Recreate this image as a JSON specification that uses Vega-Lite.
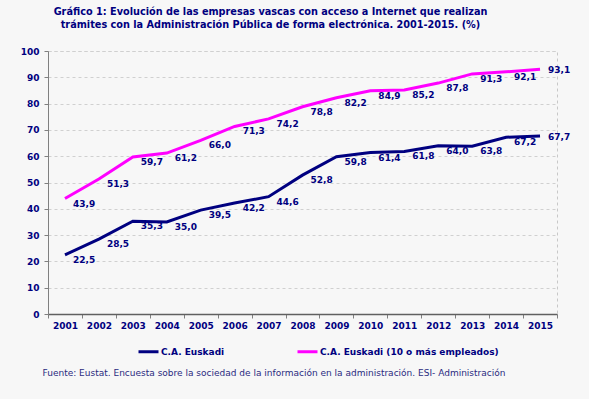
{
  "$schema": "https://vega.github.io/schema/vega-lite/v6.json",
  "width": 509,
  "height": 263,
  "autosize": {"type": "none"},
  "padding": {"left": 48, "top": 51, "right": 32, "bottom": 85},
  "background": "#f7f7f7",
  "title": {
    "text": ["Gráfico 1: Evolución de las empresas vascas con acceso a Internet que realizan", "trámites con la Administración Pública de forma electrónica. 2001-2015. (%)"],
    "anchor": "middle",
    "dx": -32,
    "offset": 17,
    "font": "DejaVu Sans Condensed",
    "fontSize": 10.8,
    "fontWeight": "bold",
    "color": "#000080",
    "lineHeight": 13
  },
  "config": {
    "locale": {"number": {"decimal": ",", "thousands": ".", "grouping": [3], "currency": ["", " €"]}},
    "view": {"stroke": "#c8c8c8", "strokeDash": [3, 3]},
    "font": "DejaVu Sans",
    "legend": {
      "orient": "none",
      "legendX": 89,
      "legendY": 289,
      "direction": "horizontal",
      "symbolType": "stroke",
      "symbolSize": 400,
      "symbolStrokeWidth": 3,
      "labelFont": "DejaVu Sans",
      "labelFontSize": 9,
      "labelFontWeight": "bold",
      "labelColor": "#000080",
      "labelOffset": 1,
      "labelLimit": 400,
      "columnPadding": 66
    }
  },
  "data": {
    "values": [
      {"year": 2001, "serie": "C.A. Euskadi", "value": 22.5},
      {"year": 2002, "serie": "C.A. Euskadi", "value": 28.5},
      {"year": 2003, "serie": "C.A. Euskadi", "value": 35.3},
      {"year": 2004, "serie": "C.A. Euskadi", "value": 35.0},
      {"year": 2005, "serie": "C.A. Euskadi", "value": 39.5},
      {"year": 2006, "serie": "C.A. Euskadi", "value": 42.2},
      {"year": 2007, "serie": "C.A. Euskadi", "value": 44.6},
      {"year": 2008, "serie": "C.A. Euskadi", "value": 52.8},
      {"year": 2009, "serie": "C.A. Euskadi", "value": 59.8},
      {"year": 2010, "serie": "C.A. Euskadi", "value": 61.4},
      {"year": 2011, "serie": "C.A. Euskadi", "value": 61.8},
      {"year": 2012, "serie": "C.A. Euskadi", "value": 64.0},
      {"year": 2013, "serie": "C.A. Euskadi", "value": 63.8},
      {"year": 2014, "serie": "C.A. Euskadi", "value": 67.2},
      {"year": 2015, "serie": "C.A. Euskadi", "value": 67.7},
      {"year": 2001, "serie": "C.A. Euskadi (10 o más empleados)", "value": 43.9},
      {"year": 2002, "serie": "C.A. Euskadi (10 o más empleados)", "value": 51.3},
      {"year": 2003, "serie": "C.A. Euskadi (10 o más empleados)", "value": 59.7},
      {"year": 2004, "serie": "C.A. Euskadi (10 o más empleados)", "value": 61.2},
      {"year": 2005, "serie": "C.A. Euskadi (10 o más empleados)", "value": 66.0},
      {"year": 2006, "serie": "C.A. Euskadi (10 o más empleados)", "value": 71.3},
      {"year": 2007, "serie": "C.A. Euskadi (10 o más empleados)", "value": 74.2},
      {"year": 2008, "serie": "C.A. Euskadi (10 o más empleados)", "value": 78.8},
      {"year": 2009, "serie": "C.A. Euskadi (10 o más empleados)", "value": 82.2},
      {"year": 2010, "serie": "C.A. Euskadi (10 o más empleados)", "value": 84.9},
      {"year": 2011, "serie": "C.A. Euskadi (10 o más empleados)", "value": 85.2},
      {"year": 2012, "serie": "C.A. Euskadi (10 o más empleados)", "value": 87.8},
      {"year": 2013, "serie": "C.A. Euskadi (10 o más empleados)", "value": 91.3},
      {"year": 2014, "serie": "C.A. Euskadi (10 o más empleados)", "value": 92.1},
      {"year": 2015, "serie": "C.A. Euskadi (10 o más empleados)", "value": 93.1}
    ]
  },
  "encoding": {
    "x": {
      "field": "year",
      "type": "ordinal",
      "bandPosition": 0.5,
      "scale": {"type": "band", "paddingInner": 0, "paddingOuter": 0},
      "axis": {
        "title": "Fuente: Eustat. Encuesta sobre la sociedad de la información en la administración. ESI- Administración",
        "titleFont": "DejaVu Sans",
        "titleFontSize": 9,
        "titleFontWeight": "normal",
        "titleColor": "#2a2a80",
        "titleX": -6,
        "titleY": 58,
        "titleAlign": "left",
        "titleBaseline": "middle",
        "labelAngle": 0,
        "labelFont": "DejaVu Sans",
        "labelFontSize": 9,
        "labelFontWeight": "bold",
        "labelColor": "#000080",
        "labelPadding": 3,
        "tickBand": "extent",
        "tickSize": 4,
        "tickColor": "#808080",
        "domainColor": "#606060",
        "domainWidth": 1.5,
        "grid": false
      }
    },
    "y": {
      "field": "value",
      "type": "quantitative",
      "scale": {"domain": [0, 100]},
      "axis": {
        "title": null,
        "values": [0, 10, 20, 30, 40, 50, 60, 70, 80, 90, 100],
        "grid": true,
        "gridDash": [3, 3],
        "gridColor": "#d0d0d0",
        "domainColor": "#808080",
        "tickSize": 4,
        "tickColor": "#808080",
        "labelPadding": 5,
        "labelFont": "DejaVu Sans",
        "labelFontSize": 9,
        "labelFontWeight": "bold",
        "labelColor": "#000080"
      }
    },
    "color": {
      "field": "serie",
      "type": "nominal",
      "title": null,
      "scale": {"domain": ["C.A. Euskadi", "C.A. Euskadi (10 o más empleados)"], "range": ["#000080", "#ff00ff"]}
    }
  },
  "layer": [
    {"mark": {"type": "line", "strokeWidth": 3}},
    {
      "transform": [{"filter": "datum.year < 2015"}],
      "mark": {"type": "text", "align": "left", "baseline": "middle", "dx": 8, "dy": 5, "font": "DejaVu Sans", "fontSize": 9, "fontWeight": "bold"},
      "encoding": {"text": {"field": "value", "type": "quantitative", "format": ".1f"}, "color": {"value": "#000080"}}
    },
    {
      "transform": [{"filter": "datum.year == 2015"}],
      "mark": {"type": "text", "align": "left", "baseline": "middle", "dx": 8, "dy": 1, "font": "DejaVu Sans", "fontSize": 9, "fontWeight": "bold"},
      "encoding": {"text": {"field": "value", "type": "quantitative", "format": ".1f"}, "color": {"value": "#000080"}}
    }
  ]
}
